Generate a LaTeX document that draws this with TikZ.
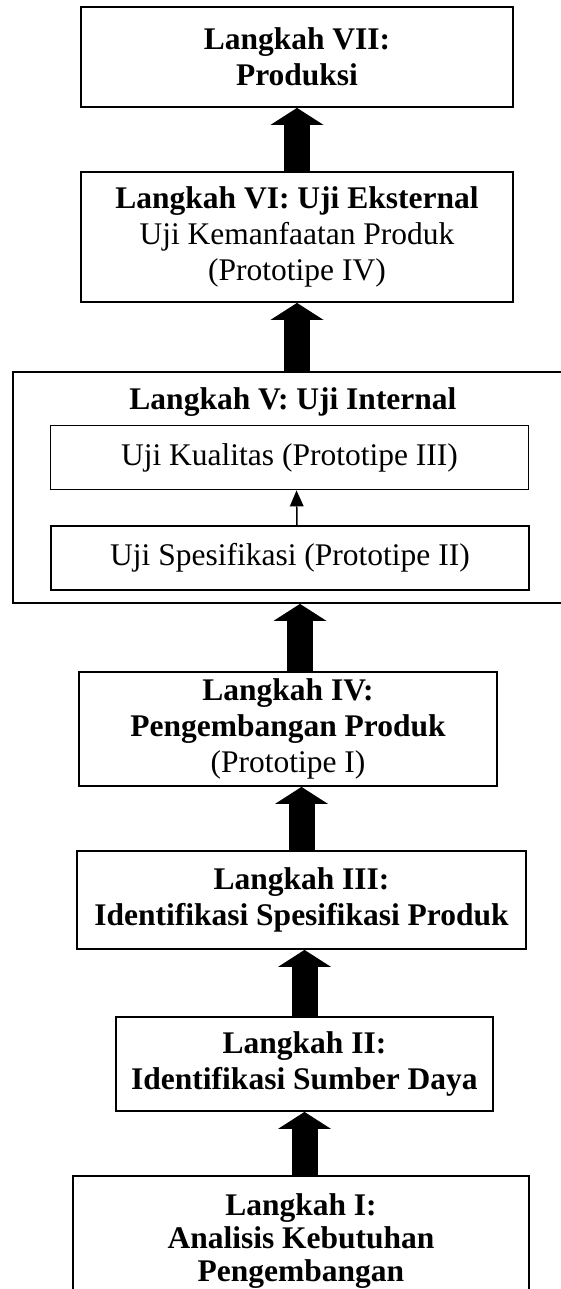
\documentclass[tikz,border=0pt]{standalone}
\usepackage{fontspec}
\setmainfont{Liberation Serif}
\usetikzlibrary{positioning, arrows.meta}

\begin{document}
\begin{tikzpicture}[
        x=1pt, y=-1pt,
        stepbox/.style={rectangle, draw, line width=1.8pt, align=center, inner sep=0pt,
            font=\fontsize{31.5}{36}\selectfont},
        inbox/.style={stepbox, minimum width=478pt, minimum height=64pt},
        ttl/.style={font=\fontsize{31.5}{36}\selectfont\bfseries, inner sep=0pt},
        bigarrow/.style={line width=26pt, -{Triangle[width=53pt, length=17pt, line width=0pt]}},
        smallarrow/.style={line width=1.5pt, -{Triangle[width=14pt, length=16pt, line width=0pt]}}
    ]
    \useasboundingbox (0,0) rectangle (561,1289);
    \clip (0,0) rectangle (561,1289);

    % Langkah VII (top)
    \node[stepbox, minimum width=432pt, minimum height=100pt] (vii) at (297,57)
        {\textbf{Langkah VII:}\\\textbf{Produksi}};

    % Langkah VI
    \node[stepbox, minimum width=432pt, minimum height=130pt] (vi) at (297,237)
        {\textbf{Langkah VI: Uji Eksternal}\\Uji Kemanfaatan Produk\\(Prototipe IV)};

    % Langkah V with the two inner tests
    \node[stepbox, minimum width=568pt, minimum height=231pt] (v) at (297,487.5) {};
    \node[ttl] (vtitle) at (293,402) {Langkah V: Uji Internal};
    \node[inbox] (kual) at (289.5,457.5) {Uji Kualitas (Prototipe III)};
    \node[inbox] (spek) at (290,558) {Uji Spesifikasi (Prototipe II)};

    % Langkah IV
    \node[stepbox, minimum width=418pt, minimum height=114pt] (iv) at (288,729)
        {\textbf{Langkah IV:}\\\textbf{Pengembangan Produk}\\(Prototipe I)};

    % Langkah III
    \node[stepbox, minimum width=449pt, minimum height=98pt] (iii) at (301.5,900)
        {\textbf{Langkah III:}\\\textbf{Identifikasi Spesifikasi Produk}};

    % Langkah II
    \node[stepbox, minimum width=377pt, minimum height=94pt] (ii) at (304.5,1064)
        {\textbf{Langkah II:}\\\textbf{Identifikasi Sumber Daya}};

    % Langkah I (bottom, runs off the page)
    \node[stepbox, font=\fontsize{31.5}{33}\selectfont, minimum width=456pt, minimum height=130pt] (i) at (301,1241)
        {\textbf{Langkah I:}\\\textbf{Analisis Kebutuhan}\\\textbf{Pengembangan}};

    % Arrows, bottom to top
    \draw[bigarrow] (i.north -| ii.south) -- (ii.south);
    \draw[bigarrow] (ii.north) -- (iii.south -| ii.north);
    \draw[bigarrow] (iii.north) -- (iv.south -| iii.north);
    \draw[bigarrow] ([xshift=3pt]iv.north -| v.south) -- ([xshift=3pt]v.south);
    \draw[smallarrow] ([xshift=7pt]spek.north) -- ([xshift=7pt]kual.south);
    \draw[bigarrow] (v.north) -- (vi.south);
    \draw[bigarrow] (vi.north) -- (vii.south);

\end{tikzpicture}
\end{document}
